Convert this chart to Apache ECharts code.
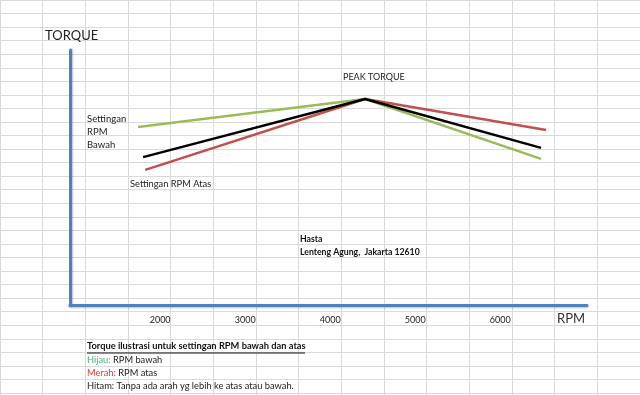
<!DOCTYPE html>
<html><head><meta charset="utf-8">
<script src="https://cdn.jsdelivr.net/npm/echarts@6/dist/echarts.min.js"></script>
<style>html,body{margin:0;padding:0;background:#fff}#c{width:640px;height:395px}</style>
</head><body><div id="c"></div>
<script>
const rpmTicks = [2000, 3000, 4000, 5000, 6000];
const greenRpm = [1740, 4410, 6480];
const greenTorque = [69.8, 80.8, 57.3];
const blackRpm = [1800, 4410, 6480];
const blackTorque = [58.0, 80.8, 61.6];
const redRpm = [1825, 4410, 6540];
const redTorque = [53.0, 80.8, 68.6];

const pair = (xs, ys) => xs.map((x, i) => [x, ys[i]]);
const font = 'Lato, "Open Sans", sans-serif';
const chart = echarts.init(document.getElementById('c'), null, {renderer: 'canvas'});
chart.setOption({
  animation: false,
  backgroundColor: '#fff',
  grid: [
    {left: 70, right: 53, top: 50, bottom: 90},
    {left: 0, right: 0, top: 0, bottom: 0, z: 0}
  ],
  xAxis: [
    {type: 'value', gridIndex: 0, min: 940, max: 7020,
     axisLine: {show: true, lineStyle: {color: '#4f81bd', width: 3, shadowColor: 'rgba(0,0,0,0.25)', shadowBlur: 2, shadowOffsetY: 1}},
     axisTick: {show: false}, splitLine: {show: false},
     axisLabel: {customValues: rpmTicks, formatter: v => String(v), color: '#222', fontSize: 9, fontFamily: font, margin: 11}},
    {type: 'value', gridIndex: 1, min: 0, max: 640, interval: 42.667, z: 0,
     axisLine: {show: false}, axisTick: {show: false}, axisLabel: {show: false},
     splitLine: {show: true, lineStyle: {color: '#d9d9d9', width: 1}}}
  ],
  yAxis: [
    {type: 'value', gridIndex: 0, min: 0, max: 100,
     axisLine: {show: true, lineStyle: {color: '#4f81bd', width: 3, shadowColor: 'rgba(0,0,0,0.25)', shadowBlur: 2, shadowOffsetX: 1}},
     axisTick: {show: false}, axisLabel: {show: false}, splitLine: {show: false}},
    {type: 'value', gridIndex: 1, min: 0, max: 395, interval: 13.55, inverse: true, z: 0,
     axisLine: {show: false}, axisTick: {show: false}, axisLabel: {show: false},
     splitLine: {show: true, lineStyle: {color: '#d9d9d9', width: 1}}}
  ],
  series: [
    {type: 'line', xAxisIndex: 0, yAxisIndex: 0, data: pair(greenRpm, greenTorque), symbol: 'none', lineStyle: {color: '#9bbb59', width: 2.5}},
    {type: 'line', xAxisIndex: 0, yAxisIndex: 0, data: pair(redRpm, redTorque), symbol: 'none', lineStyle: {color: '#c0504d', width: 2.5}},
    {type: 'line', xAxisIndex: 0, yAxisIndex: 0, data: pair(blackRpm, blackTorque), symbol: 'none', lineStyle: {color: '#000', width: 2.5}}
  ],
  graphic: {elements: [
    {type: 'text', z: 100, left: 45, top: 29, style: {text: 'TORQUE', fill: '#222', font: '13px ' + font}},
    {type: 'text', z: 100, left: 557, top: 312, style: {text: 'RPM', fill: '#333', font: '13px ' + font}},
    {type: 'text', z: 100, left: 343, top: 73, style: {text: 'PEAK TORQUE', fill: '#222', font: '9px ' + font}},
    {type: 'text', z: 100, left: 87, top: 112, style: {text: 'Settingan\nRPM\nBawah', fill: '#222', font: '9.5px ' + font, lineHeight: 13.3}},
    {type: 'text', z: 100, left: 130, top: 179, style: {text: 'Settingan RPM Atas', fill: '#222', font: '9.3px ' + font}},
    {type: 'text', z: 100, left: 300, top: 232, style: {text: 'Hasta\nLenteng Agung,  Jakarta 12610', fill: '#111', font: 'bold 8.7px ' + font, lineHeight: 13.5}},
    {type: 'text', z: 100, left: 87, top: 341, style: {text: 'Torque ilustrasi untuk settingan RPM bawah dan atas', fill: '#111', font: 'bold 9.3px ' + font}},
    {type: 'line', z: 100, shape: {x1: 87, y1: 353, x2: 305, y2: 353}, style: {stroke: '#111', lineWidth: 1}},
    {type: 'text', z: 100, left: 87, top: 355, style: {text: '{g|Hijau:} RPM bawah', fill: '#222', font: '9.3px ' + font, rich: {g: {fill: '#4bb07a', font: '9.3px ' + font}}}},
    {type: 'text', z: 100, left: 87, top: 368, style: {text: '{r|Merah:} RPM atas', fill: '#222', font: '9.3px ' + font, rich: {r: {fill: '#d0403a', font: '9.3px ' + font}}}},
    {type: 'text', z: 100, left: 87, top: 381, style: {text: 'Hitam: Tanpa ada arah yg lebih ke atas atau bawah.', fill: '#222', font: '9.3px ' + font}}
  ]}
});
</script></body></html>
